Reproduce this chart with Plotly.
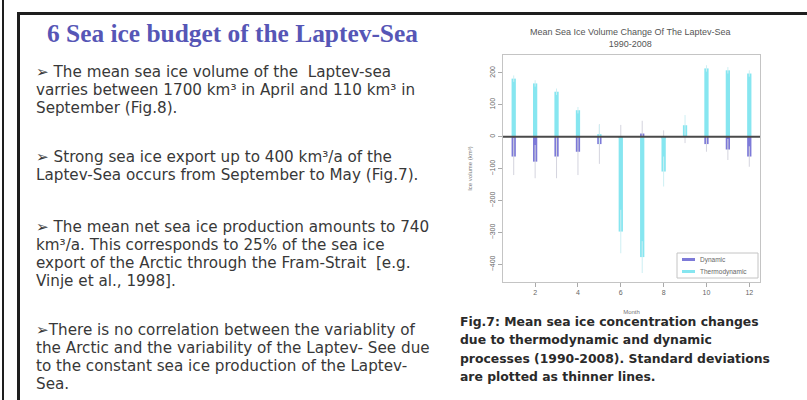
import plotly.graph_objects as go

# ---------------- data ----------------
months = list(range(1, 13))
thermodynamic = [182, 167, 141, 83, 8, -297, -377, -109, 36, 214, 208, 198]
thermodynamic_sd = [10, 10, 10, 10, 30, 68, 50, 47, 32, 10, 10, 10]
dynamic = [-62, -78, -62, -47, -23, -3, 10, -5, 0, -23, -40, -62]
dynamic_sd = [58, 52, 68, 73, 62, 40, 40, 25, 20, 24, 33, 32]
month_ticks = [2, 4, 6, 8, 10, 12]
volume_ticks = [-400, -300, -200, -100, 0, 100, 200]

title_text = "6 Sea ice budget of the Laptev-Sea"
paragraphs = [
    ["\u27a2 The mean sea ice volume of the  Laptev-sea",
     "varries between 1700 km\u00b3 in April and 110 km\u00b3 in",
     "September (Fig.8)."],
    ["\u27a2 Strong sea ice export up to 400 km\u00b3/a of the",
     "Laptev-Sea occurs from September to May (Fig.7)."],
    ["\u27a2 The mean net sea ice production amounts to 740",
     "km\u00b3/a. This corresponds to 25% of the sea ice",
     "export of the Arctic through the Fram-Strait  [e.g.",
     "Vinje et al., 1998]."],
    ["\u27a2There is no correlation between the variablity of",
     "the Arctic and the variability of the Laptev- See due",
     "to the constant sea ice production of the Laptev-",
     "Sea."],
]
caption_lines = [
    "Fig.7: Mean sea ice concentration changes",
    "due to thermodynamic and dynamic",
    "processes (1990-2008). Standard deviations",
    "are plotted as thinner lines.",
]
chart_title = "Mean Sea Ice Volume Change Of The Laptev-Sea<br>1990-2008"
legend_names = ["Dynamic", "Thermodynamic"]

# ---------------- styling ----------------
W, H = 807, 400
CYAN = "#86e6f0"
PURPLE = "#7d7ad8"
SANS = "Liberation Sans, Arial, sans-serif"
WIDE_SANS = "DejaVu Sans, Verdana, sans-serif"


def px(x):
    return x / W


def py(y):
    return 1 - y / H


fig = go.Figure()

fig.add_trace(go.Bar(
    x=months, y=dynamic, width=0.2, marker=dict(color=PURPLE, line_width=0),
    error_y=dict(type="data", array=dynamic_sd, color="#d4d4de", thickness=1, width=0),
    showlegend=False, name=legend_names[0]))
fig.add_trace(go.Bar(
    x=months, y=thermodynamic, width=0.2, marker=dict(color=CYAN, line_width=0),
    error_y=dict(type="data", array=thermodynamic_sd, color="#cdeff3", thickness=1, width=0),
    showlegend=False, name=legend_names[1]))

fig.update_layout(
    width=W, height=H, margin=dict(l=0, r=0, t=0, b=0),
    paper_bgcolor="white", plot_bgcolor="white",
    barmode="overlay", showlegend=False,
    xaxis=dict(domain=[px(503), px(760)], range=[0.5, 12.5], tickvals=month_ticks,
               showgrid=False, zeroline=False, showline=True, mirror=True,
               linecolor="#c4c4c4", linewidth=1, ticks="outside", ticklen=4,
               tickcolor="#aaa", tickfont=dict(size=7, color="#666", family=SANS),
               title=dict(text="Month", font=dict(size=6, color="#777", family=SANS),
                          standoff=14)),
    yaxis=dict(domain=[py(282), py(55)], range=[-455, 256], tickvals=volume_ticks,
               showgrid=False, zeroline=False, showline=True, mirror=True,
               linecolor="#c4c4c4", linewidth=1, ticks="outside", ticklen=4,
               tickcolor="#aaa", tickangle=-90,
               tickfont=dict(size=7, color="#666", family=SANS),
               title=dict(text="Ice volume (km\u00b3)",
                          font=dict(size=6, color="#777", family=SANS), standoff=16)),
)

# zero reference line above the bars
fig.add_shape(type="line", xref="x domain", yref="y", x0=0, x1=1, y0=0, y1=0,
              line=dict(color="#4a4a4a", width=2), layer="above")

# poster frame lines
frame = dict(color="#1e1e1e")
fig.add_shape(type="line", xref="paper", yref="paper", x0=px(3), x1=px(3), y0=0, y1=1,
              line=dict(width=2, **frame))
fig.add_shape(type="line", xref="paper", yref="paper", x0=px(18.5), x1=px(18.5), y0=0, y1=py(12),
              line=dict(width=3, **frame))
fig.add_shape(type="line", xref="paper", yref="paper", x0=px(17), x1=1, y0=py(13.5), y1=py(13.5),
              line=dict(width=3, **frame))

# section heading
fig.add_annotation(xref="paper", yref="paper", x=px(45), y=py(33), xanchor="left", yanchor="middle",
                   text="<b>%s</b>" % title_text, showarrow=False,
                   font=dict(family="Liberation Serif, Times New Roman, serif", size=25.4, color="#5656b6"))

# body paragraphs
para_starts = [72, 157, 227, 330]
line_step = 18.0
for start, lines in zip(para_starts, paragraphs):
    for i, line in enumerate(lines):
        fig.add_annotation(xref="paper", yref="paper", x=px(35), y=py(start + i * line_step),
                           xanchor="left", yanchor="middle", text=line, showarrow=False,
                           borderpad=0,
                           font=dict(family=WIDE_SANS, size=15.2, color="#383838"))

# figure caption
for i, line in enumerate(caption_lines):
    fig.add_annotation(xref="paper", yref="paper", x=px(459), y=py(321 + i * 18.6),
                       xanchor="left", yanchor="middle", text="<b>%s</b>" % line, showarrow=False,
                       borderpad=0,
                       font=dict(family=WIDE_SANS, size=12.4, color="#2a2a2a"))

# chart title
fig.add_annotation(xref="paper", yref="paper", x=px(630), y=py(38), xanchor="center",
                   yanchor="middle", text=chart_title, showarrow=False,
                   font=dict(family=SANS, size=9, color="#555"))

# legend box
fig.add_shape(type="rect", xref="paper", yref="paper", x0=px(677), x1=px(758), y0=py(278), y1=py(253),
              line=dict(color="#c4c4c4", width=1), fillcolor="white")
for i, (name, col) in enumerate(zip(legend_names, [PURPLE, CYAN])):
    yy = 259.5 + i * 12
    fig.add_shape(type="line", xref="paper", yref="paper", x0=px(682), x1=px(695),
                  y0=py(yy), y1=py(yy), line=dict(color=col, width=3))
    fig.add_annotation(xref="paper", yref="paper", x=px(698), y=py(yy), xanchor="left",
                       yanchor="middle", text=name, showarrow=False,
                       font=dict(family=SANS, size=6.5, color="#666"))

fig.write_html("out.html")
